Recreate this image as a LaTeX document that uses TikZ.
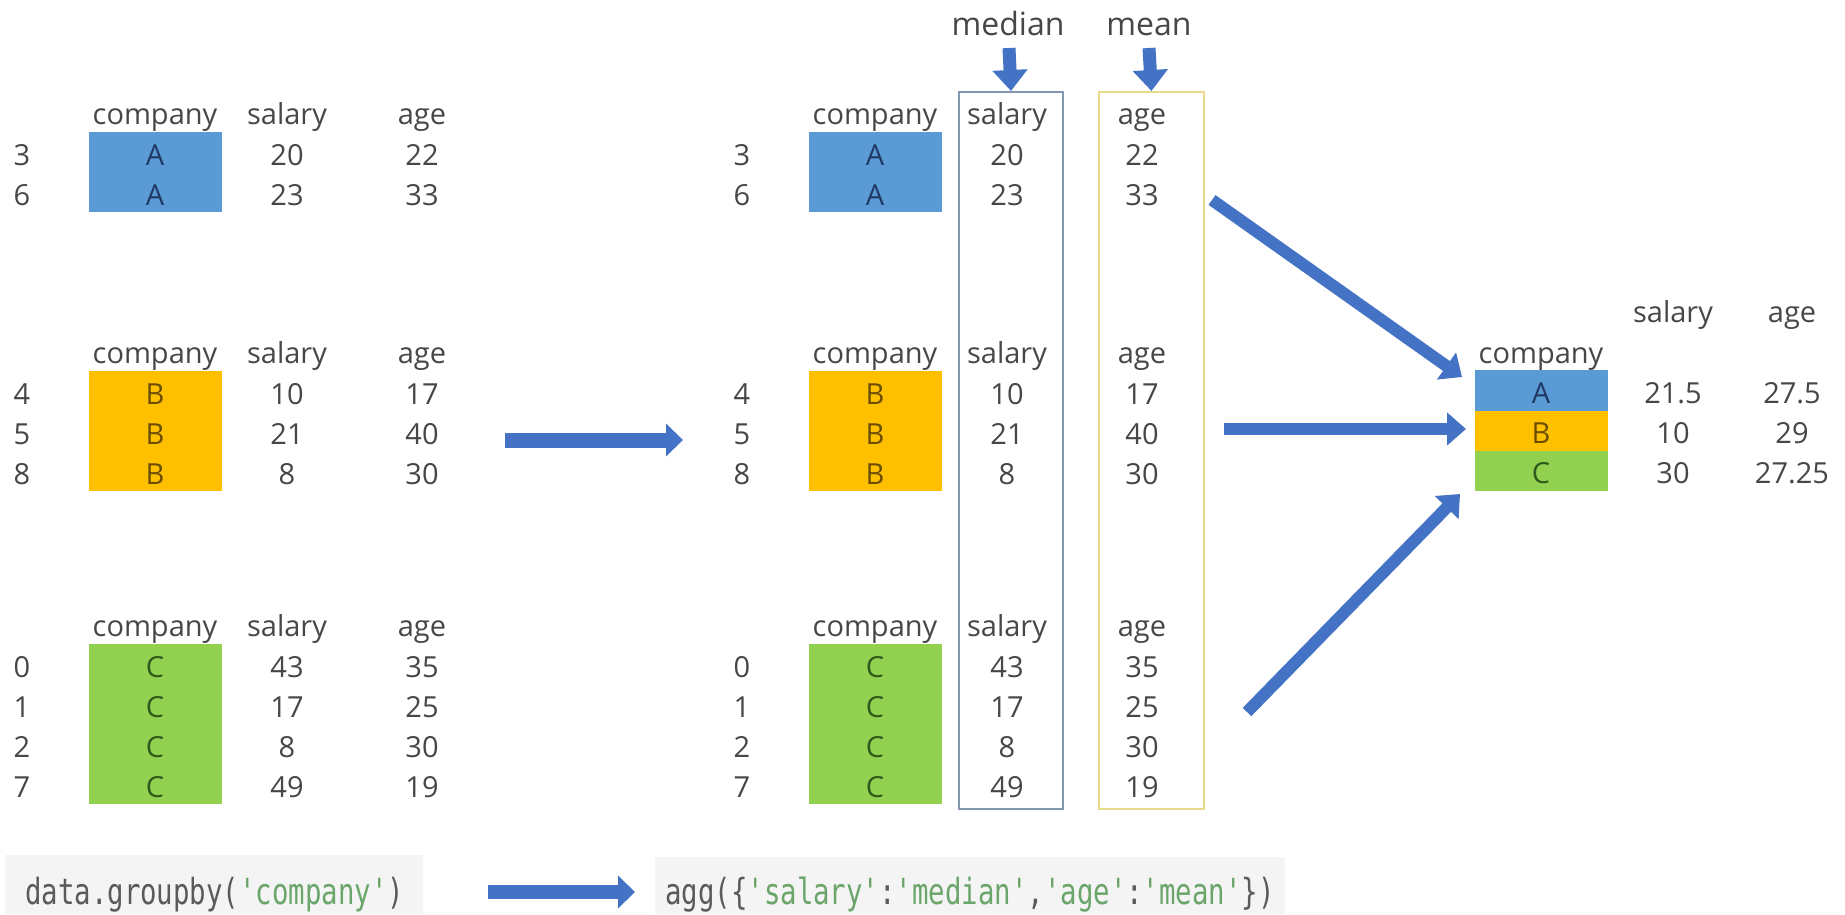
\documentclass[tikz,border=0pt]{standalone}
\usepackage{fontspec}
\setmainfont{Open Sans}
\newfontfamily\codefont{DejaVu Sans Mono}[FakeStretch=0.76]
\usetikzlibrary{arrows.meta}

\definecolor{txtgray}{HTML}{474747}
\definecolor{cellA}{HTML}{5B9BD5}
\definecolor{cellB}{HTML}{FFC000}
\definecolor{cellC}{HTML}{92D050}
\definecolor{inkA}{HTML}{1F3864}
\definecolor{inkB}{HTML}{6B4E00}
\definecolor{inkC}{HTML}{2F5A1B}
\definecolor{arrowblue}{HTML}{4472C4}
\definecolor{medianline}{HTML}{8497B0}
\definecolor{meanline}{HTML}{E6DC8A}
\definecolor{codebg}{HTML}{F4F4F4}
\definecolor{codeink}{HTML}{5A5A5A}
\definecolor{codestr}{HTML}{6AA56A}

% One grouped sub-table: #1 name, #2 x offset, #3 header baseline,
% #4 group letter, #5 cell fill, #6 letter colour, #7 rows index/salary/age
\newcommand\tablegroup[7]{%
  \node[lbl] (#1-hc) at (#2+155,#3) {company};
  \node[lbl] (#1-hs) at (#2+287,#3) {salary};
  \node[lbl] (#1-ha) at (#2+422,#3) {age};
  \foreach \ix/\sv/\av [count=\rr] in {#7} {
    \pgfmathsetmacro\yb{#3+1+40*\rr}
    \node[cellbox, fill=#5] (#1-c\rr) at (#2+155,\yb-13) {};
    \node[lbl] (#1-i\rr) at (#2+22,\yb) {\ix};
    \node[lbl, text=#6] (#1-k\rr) at (#2+155,\yb) {#4};
    \node[lbl] (#1-s\rr) at (#2+287,\yb) {\sv};
    \node[lbl] (#1-a\rr) at (#2+422,\yb) {\av};
  }%
}

\begin{document}
\begin{tikzpicture}[x=1pt,y=-1pt,
  lbl/.style={anchor=base, inner sep=0pt, text=txtgray,
    font=\fontsize{29}{34}\selectfont},
  cellbox/.style={draw=none, inner sep=0pt, minimum width=133pt, minimum height=40.5pt},
  colbox/.style={draw=#1, line width=2pt, inner sep=0pt},
  bigarrow/.style={draw=arrowblue, line width=12pt,
    -{Triangle[length=19pt, width=32pt]}},
  codebox/.style={fill=codebg, draw=none, inner sep=0pt, anchor=north west},
  codetxt/.style={inner sep=0pt, text=codeink,
    font=\codefont\fontsize{36}{40}\selectfont}
]
\fill[white] (0,0) rectangle (1845,914);
\useasboundingbox (0,0) rectangle (1845,914);

% column outlines for the aggregated columns
\node[colbox=medianline, minimum width=104pt, minimum height=717pt, anchor=north west]
  (medcol) at (958,91) {};
\node[colbox=meanline, minimum width=105pt, minimum height=717pt, anchor=north west]
  (meancol) at (1098,91) {};

% groups before aggregation
\tablegroup{LA}{0}{124}{A}{cellA}{inkA}{3/20/22, 6/23/33}
\tablegroup{LB}{0}{363}{B}{cellB}{inkB}{4/10/17, 5/21/40, 8/8/30}
\tablegroup{LC}{0}{636}{C}{cellC}{inkC}{0/43/35, 1/17/25, 2/8/30, 7/49/19}

% the same groups with the aggregated columns marked
\tablegroup{MA}{720}{124}{A}{cellA}{inkA}{3/20/22, 6/23/33}
\tablegroup{MB}{720}{363}{B}{cellB}{inkB}{4/10/17, 5/21/40, 8/8/30}
\tablegroup{MC}{720}{636}{C}{cellC}{inkC}{0/43/35, 1/17/25, 2/8/30, 7/49/19}

% aggregation labels
\node[lbl, font=\fontsize{32}{36}\selectfont] (median) at (1008,35) {median};
\node[lbl, font=\fontsize{32}{36}\selectfont] (mean) at (1149,35) {mean};
\coordinate (medtop) at (1009,48);
\coordinate (meantop) at (1149,48);
\draw[draw=arrowblue, line width=13pt, -{Triangle[length=21pt, width=34pt]}]
  (medtop) -- (medcol.north);
\draw[draw=arrowblue, line width=13pt, -{Triangle[length=21pt, width=34pt]}]
  (meantop) -- (meancol.north);

% result table
\node[cellbox, fill=cellA, minimum height=41pt] (RA) at (1541.5,390.5) {};
\node[cellbox, fill=cellB, minimum height=40pt] (RB) at (1541.5,431) {};
\node[cellbox, fill=cellC, minimum height=40pt] (RC) at (1541.5,471) {};
\node[lbl] (R-hc) at (1541,363) {company};
\node[lbl] (R-hs) at (1673,322) {salary};
\node[lbl] (R-ha) at (1792,322) {age};
\node[lbl, text=inkA] (R-kA) at (1541,403) {A};
\node[lbl, text=inkB] (R-kB) at (1541,443) {B};
\node[lbl, text=inkC] (R-kC) at (1541,483) {C};
\node[lbl] (R-sA) at (1673,403) {21.5};
\node[lbl] (R-sB) at (1673,443) {10};
\node[lbl] (R-sC) at (1673,483) {30};
\node[lbl] (R-aA) at (1792,403) {27.5};
\node[lbl] (R-aB) at (1792,443) {29};
\node[lbl] (R-aC) at (1792,483) {27.25};

% flow arrows
\coordinate (split-from) at (505,440);
\coordinate (split-to) at (683,440);
\draw[bigarrow, line width=15pt, -{Triangle[length=17pt, width=32pt]}] (split-from) -- (split-to);

\coordinate (fromA) at (1212,200);
\coordinate (toA) at (1462,377);
\coordinate (fromB) at (1224,429);
\coordinate (toB) at (1466,429);
\coordinate (fromC) at (1247,712);
\coordinate (toC) at (1460,494);
\draw[bigarrow] (fromA) -- (toA);
\draw[bigarrow] (fromB) -- (toB);
\draw[bigarrow] (fromC) -- (toC);

% code line
\node[codebox, minimum width=418pt, minimum height=59pt] (code1bg) at (5,855) {};
\node[codebox, minimum width=630pt, minimum height=57pt] (code2bg) at (655,857) {};
\node[codetxt, anchor=base west] (code1) at (25,904)
  {data.groupby(\textcolor{codestr}{'company'})};
\node[codetxt, anchor=base] (code2) at (970,904)
  {agg(\{\textcolor{codestr}{'salary'}:\textcolor{codestr}{'median'},\textcolor{codestr}{'age'}:\textcolor{codestr}{'mean'}\})};
\coordinate (code-from) at (488,892);
\coordinate (code-to) at (635,892);
\draw[bigarrow, line width=14pt, -{Triangle[length=17pt, width=32pt]}] (code-from) -- (code-to);
\end{tikzpicture}
\end{document}
